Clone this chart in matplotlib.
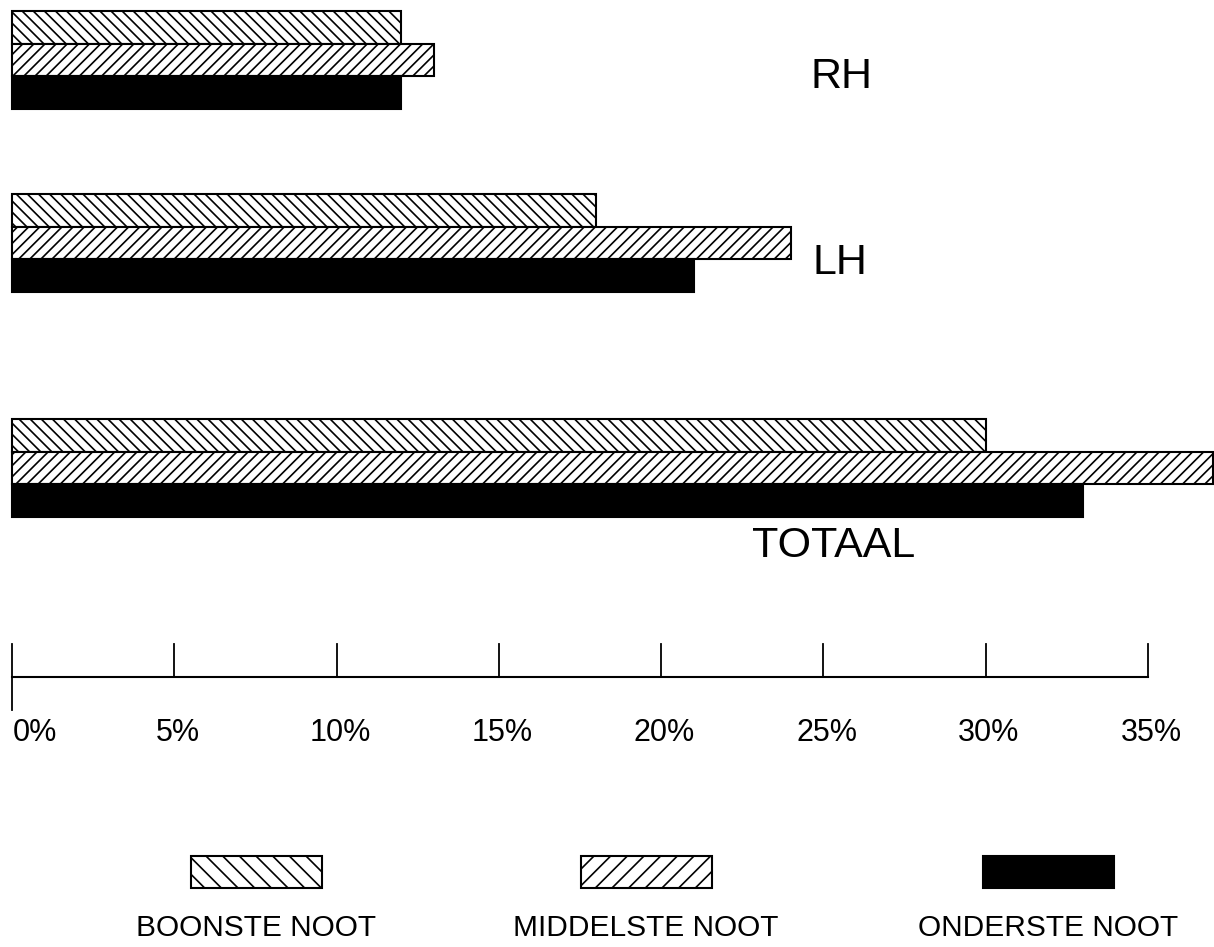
import matplotlib.pyplot as plt
from matplotlib.patches import Rectangle

# data (percent)
groups = ['RH', 'LH', 'TOTAAL']
boonste = [12, 18, 30]
middelste = [13, 24, 37]
onderste = [12, 21, 33]
series_names = ['BOONSTE NOOT', 'MIDDELSTE NOOT', 'ONDERSTE NOOT']
ticks = [0, 5, 10, 15, 20, 25, 30, 35]
tick_labels = ['0%', '5%', '10%', '15%', '20%', '25%', '30%', '35%']

W, H = 1214, 947
plt.rcParams['font.family'] = ['Liberation Sans', 'DejaVu Sans']
plt.rcParams['hatch.linewidth'] = 1.2

fig = plt.figure(figsize=(W / 100, H / 100), dpi=100)
ax = fig.add_axes([0, 0, 1, 1])
ppp = 1136 / 35.0  # pixels per percent
ax.set_xlim(-12 / ppp, (W - 12) / ppp)
ax.set_ylim(H, 0)
ax.axis('off')

group_y = [60, 243, 468]
bh = 32.5
for i, g in enumerate(groups):
    y = group_y[i]
    ax.barh(y - bh, boonste[i], height=bh, left=0, facecolor='white',
            edgecolor='black', linewidth=1.5, hatch='\\\\\\')
    ax.barh(y, middelste[i], height=bh, left=0, facecolor='white',
            edgecolor='black', linewidth=1.5, hatch='///')
    ax.barh(y + bh, onderste[i], height=bh, left=0, facecolor='black',
            edgecolor='black', linewidth=1.5)

lab_pos = [(25.55, 77), (25.5, 263), (25.3, 546)]
for g, (x, y) in zip(groups, lab_pos):
    ax.text(x, y, g, fontsize=31, ha='center', va='center')

# axis
ax.plot([0, 35], [677, 677], color='black', lw=1.5)
for t, tl in zip(ticks, tick_labels):
    ax.plot([t, t], [644, 710 if t == 0 else 677], color='black', lw=1.3)
    if t == 0:
        ax.text(t + 0.02, 733, tl, fontsize=22, ha='left', va='center')
    else:
        ax.text(t + 0.1, 733, tl, fontsize=22, ha='center', va='center')

# legend
box_x = [191, 581, 983]
hatches = ['\\\\', '//', None]
for bx, hname, name in zip(box_x, hatches, series_names):
    fc = 'black' if hname is None else 'white'
    r = Rectangle((bx / W, 1 - 888 / H), 131 / W, 32 / H, transform=fig.transFigure,
                  facecolor=fc, edgecolor='black', linewidth=1.5, hatch=hname)
    fig.add_artist(r)
    fig.text((bx + 65) / W, 1 - 928 / H, name, fontsize=21.5, ha='center',
             va='center')

fig.savefig('out.png', dpi=100)
